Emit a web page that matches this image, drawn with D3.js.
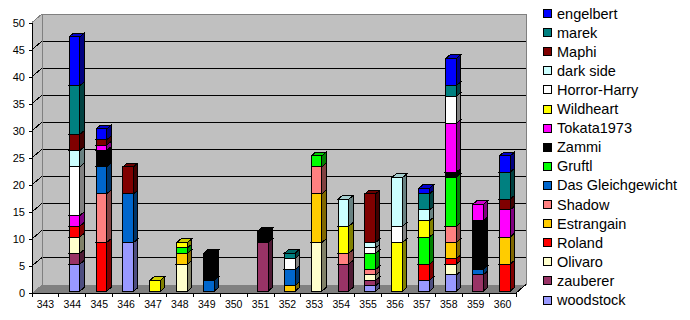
<!DOCTYPE html>
<html>
<head>
<meta charset="utf-8">
<script src="https://cdn.jsdelivr.net/npm/d3@7"></script>
<style>
  body { margin: 0; background: #fff; }
  text { font-family: "Liberation Sans", Arial, sans-serif; }
</style>
</head>
<body>
<svg id="chart" width="690" height="320"></svg>
<script>
// categories along the bottom
const cats = ["343","344","345","346","347","348","349","350","351","352","353","354","355","356","357","358","359","360"];
const yTicks = [0,5,10,15,20,25,30,35,40,45,50];

// points per voter, one entry per category (stack order, bottom first)
const woodstock    = [0,5,0,9,0,0,0,0,0,0,0,0,1,0,2,3,0,0];
const zauberer     = [0,2,0,0,0,0,0,0,9,0,0,5,1,0,0,0,3,0];
const olivaro      = [0,3,0,0,0,5,0,0,0,0,9,0,1,0,0,2,0,0];
const roland       = [0,2,9,0,0,0,0,0,0,0,0,0,0,0,3,1,0,5];
const estrangain   = [0,0,0,0,0,2,0,0,0,1,9,0,0,0,0,3,0,5];
const shadow       = [0,0,9,0,0,0,0,0,0,0,5,2,1,0,0,3,0,0];
const gleich       = [0,0,5,9,0,0,2,0,0,3,0,0,0,0,0,0,1,0];
const gruftl       = [0,0,0,0,0,1,0,0,0,0,2,0,3,0,5,9,0,0];
const zammi        = [0,0,3,0,0,0,5,0,2,0,0,0,0,0,0,1,9,0];
const tokata       = [0,2,1,0,0,0,0,0,0,0,0,0,0,0,0,9,3,5];
const wildheart    = [0,0,0,0,2,1,0,0,0,0,0,5,0,9,3,0,0,0];
const horrorHarry  = [0,9,0,0,0,0,0,0,0,2,0,0,1,3,0,5,0,0];
const darkSide     = [0,3,0,0,0,0,0,0,0,0,0,5,1,9,2,0,0,0];
const maphi        = [0,3,1,5,0,0,0,0,0,0,0,0,9,0,0,0,0,2];
const marek        = [0,9,0,0,0,0,0,0,0,1,0,0,0,0,3,2,0,5];
const engelbert    = [0,9,2,0,0,0,0,0,0,0,0,0,0,0,1,5,0,3];

const seriesNames = ["woodstock","zauberer","Olivaro","Roland","Estrangain","Shadow","Das Gleichgewicht",
  "Gruftl","Zammi","Tokata1973","Wildheart","Horror-Harry","dark side","Maphi","marek","engelbert"];
const seriesValues = [woodstock,zauberer,olivaro,roland,estrangain,shadow,gleich,
  gruftl,zammi,tokata,wildheart,horrorHarry,darkSide,maphi,marek,engelbert];
const seriesColors = ["#9999ff","#993366","#ffffcc","#ff0000","#ffcc00","#ff8080","#0066cc",
  "#00ff00","#000000","#ff00ff","#ffff00","#ffffff","#ccffff","#800000","#008080","#0000ff"];

const svg = d3.select("#chart");

// 3d depth of the plot box
const DX = 10, DY = -8.5;
const Z0 = 0.22, Z1 = 0.65;   // bar front / back depth
function proj(px, py, z) { return [px + z*DX, py + z*DY]; }

const x = d3.scaleBand().domain(cats).range([32, 516]).paddingInner(0.6).paddingOuter(0.3);
const y = d3.scaleLinear().domain([0, 50]).range([293, 22.5]);
const color = d3.scaleOrdinal().domain(seriesNames).range(seriesColors);

const xL = 32, xR = 516;
const line = d3.line();

// walls
const walls = svg.append("g").attr("shape-rendering", "crispEdges");
walls.append("path")
  .attr("d", line([[xL, y(50)], proj(xL, y(50), 1), proj(xL, y(0), 1), [xL, y(0)]]) + "Z")
  .attr("fill", "#c0c0c0");
walls.append("path")
  .attr("d", line([proj(xL, y(50), 1), proj(xR, y(50), 1), proj(xR, y(0), 1), proj(xL, y(0), 1)]) + "Z")
  .attr("fill", "#c0c0c0");
walls.append("path")
  .attr("d", line([[xL, y(0)], [xR, y(0)], proj(xR, y(0), 1), proj(xL, y(0), 1)]) + "Z")
  .attr("fill", "#808080");

// gridlines
yTicks.filter(v => v > 0 && v < 50).forEach(v => {
  walls.append("path")
    .attr("d", line([[xL, y(v)], proj(xL, y(v), 1), proj(xR, y(v), 1)]))
    .attr("fill", "none").attr("stroke", "#000");
});

// wall outlines
walls.append("path")
  .attr("d", line([[xL, y(50)], proj(xL, y(50), 1), proj(xR, y(50), 1), proj(xR, y(0), 1)]))
  .attr("fill", "none").attr("stroke", "#808080");
walls.append("path")
  .attr("d", line([proj(xL, y(50), 1), proj(xL, y(0), 1)]))
  .attr("fill", "none").attr("stroke", "#808080");
walls.append("path")
  .attr("d", line([[xR, y(0)], proj(xR, y(0), 1)]))
  .attr("fill", "none").attr("stroke", "#000");

// stacked 3d bars
const table = cats.map((c, i) => {
  const row = {cat: c};
  seriesNames.forEach((s, k) => { row[s] = seriesValues[k][i]; });
  return row;
});
const stacked = d3.stack().keys(seriesNames)(table);

const bars = svg.append("g").attr("shape-rendering", "crispEdges").attr("stroke", "#000");
cats.forEach((c, i) => {
  const bx = x(c), bw = x.bandwidth();
  stacked.forEach(layer => {
    const d = layer[i];
    if (d[1] - d[0] <= 0) return;
    const base = d3.color(color(layer.key));
    const yb = y(d[0]), yt = y(d[1]);
    const g = bars.append("g");
    g.append("path")
      .attr("d", line([proj(bx, yt, Z0), proj(bx + bw, yt, Z0), proj(bx + bw, yb, Z0), proj(bx, yb, Z0)]) + "Z")
      .attr("fill", base.formatHex());
    g.append("path")
      .attr("d", line([proj(bx + bw, yt, Z0), proj(bx + bw, yt, Z1), proj(bx + bw, yb, Z1), proj(bx + bw, yb, Z0)]) + "Z")
      .attr("fill", base.darker(1.9).formatHex());
    g.append("path")
      .attr("d", line([proj(bx, yt, Z0), proj(bx, yt, Z1), proj(bx + bw, yt, Z1), proj(bx + bw, yt, Z0)]) + "Z")
      .attr("fill", base.darker(0.6).formatHex());
  });
});

// y axis
const yAxis = svg.append("g")
  .attr("transform", `translate(${xL},0)`)
  .call(d3.axisLeft(y).tickValues(yTicks).tickSize(3).tickSizeOuter(0).tickPadding(4));
yAxis.attr("shape-rendering", "crispEdges");
yAxis.selectAll("text").attr("font-size", 11).attr("fill", "#000").attr("font-family", "Liberation Sans, Arial, sans-serif");
yAxis.selectAll("line, path").attr("stroke", "#000");

// x axis: labels at band centres, ticks at band edges
const xAxis = svg.append("g")
  .attr("transform", `translate(0,${y(0)})`)
  .call(d3.axisBottom(x).tickSize(0).tickSizeOuter(0).tickPadding(8));
xAxis.attr("shape-rendering", "crispEdges");
xAxis.select(".domain").attr("d", `M${xL},0H${xR}`).attr("stroke", "#000");
xAxis.selectAll("text").attr("font-size", 10.5).attr("fill", "#000").attr("font-family", "Liberation Sans, Arial, sans-serif");
const edges = cats.map(c => x(c) - (x.step() - x.bandwidth()) / 2).concat([xR]);
xAxis.selectAll(".edge").data(edges).join("line")
  .attr("class", "edge")
  .attr("x1", d => d).attr("x2", d => d)
  .attr("y1", 0).attr("y2", 4)
  .attr("stroke", "#000");

// legend (top to bottom reverses stack order)
const legendNames = seriesNames.slice().reverse();
const legend = svg.append("g").attr("transform", "translate(543,9)");
const item = legend.selectAll("g").data(legendNames).join("g")
  .attr("transform", (d, i) => `translate(0,${i * 19.1})`);
item.append("rect")
  .attr("x", 0.5).attr("y", 0.5).attr("width", 8).attr("height", 8)
  .attr("fill", d => color(d)).attr("stroke", "#000")
  .attr("shape-rendering", "crispEdges");
item.append("text")
  .attr("x", 14).attr("y", 9.5)
  .attr("font-size", 14.5)
  .text(d => d);
</script>
</body>
</html>
